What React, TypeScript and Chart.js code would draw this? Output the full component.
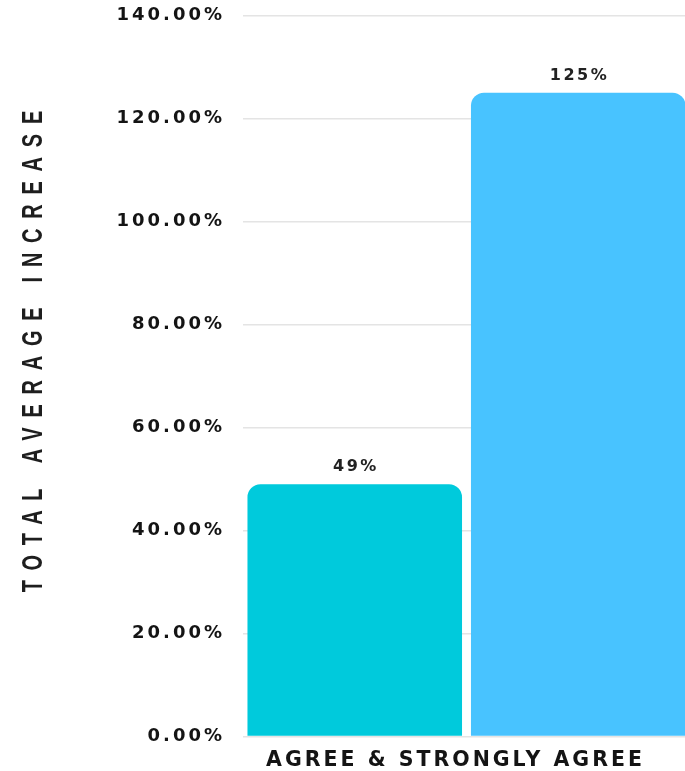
import React, { useEffect, useRef } from "react";
import { Chart, registerables } from "chart.js";

Chart.register(...registerables);

const categories: string[] = ["AGREE & STRONGLY AGREE"];
const seriesNames: string[] = ["Series 1", "Series 2"];
const seriesValues: number[][] = [[49], [125]];
const seriesColors: string[] = ["#00CADC", "#48C3FF"];
const yMin = 0;
const yMax = 140;
const yStep = 20;
const yTitle = "TOTAL AVERAGE INCREASE";

const TEXT_COLOR = "#141414";

const spacingPlugin = {
  id: "spacingPlugin",
  beforeDraw(chart: any) {
    chart.ctx.letterSpacing = "3px";
  },
  afterDraw(chart: any) {
    chart.ctx.letterSpacing = "0px";
  },
};

const dataLabelPlugin = {
  id: "dataLabelPlugin",
  afterDatasetsDraw(chart: any) {
    const ctx = chart.ctx;
    ctx.save();
    ctx.letterSpacing = "2.5px";
    ctx.font = 'bold 16px "DejaVu Sans"';
    ctx.fillStyle = "#222222";
    ctx.textAlign = "left";
    ctx.textBaseline = "middle";
    chart.data.datasets.forEach((ds: any, i: number) => {
      const meta = chart.getDatasetMeta(i);
      meta.data.forEach((el: any, j: number) => {
        const txt = `${ds.data[j]}%`;
        const w = ctx.measureText(txt).width - 2.5;
        ctx.fillText(txt, el.x - w / 2, el.y - 17);
      });
    });
    ctx.restore();
  },
};

const yTitlePlugin = {
  id: "yTitlePlugin",
  afterDraw(chart: any) {
    const ctx = chart.ctx;
    const sp = 9.75;
    ctx.save();
    ctx.letterSpacing = `${sp}px`;
    ctx.font = 'bold 20px "Liberation Sans"';
    ctx.fillStyle = "#1e1e1e";
    ctx.textAlign = "left";
    ctx.textBaseline = "middle";
    ctx.translate(34, 351.5);
    ctx.rotate(-Math.PI / 2);
    ctx.scale(1, 1.5);
    const w = ctx.measureText(yTitle).width - sp;
    ctx.fillText(yTitle, -w / 2, 0);
    ctx.restore();
  },
};

export default function App() {
  const canvasRef = useRef<HTMLCanvasElement | null>(null);

  useEffect(() => {
    document.body.style.margin = "0";
    document.documentElement.style.overflow = "hidden";
    document.body.style.overflow = "hidden";
    const canvas = canvasRef.current;
    if (!canvas) return;
    const chart = new Chart(canvas, {
      type: "bar",
      data: {
        labels: categories,
        datasets: seriesNames.map((name, i) => ({
          label: name,
          data: seriesValues[i],
          backgroundColor: seriesColors[i],
          borderRadius: 13,
          borderSkipped: "start",
          categoryPercentage: 1,
          barPercentage: 0.96,
        })),
      },
      options: {
        animation: false,
        responsive: true,
        maintainAspectRatio: false,
        layout: { padding: { top: 15.5, left: 0, right: 0, bottom: 0 } },
        plugins: {
          legend: { display: false },
          tooltip: { enabled: false },
          title: { display: false },
        },
        scales: {
          x: {
            grid: { display: false, drawTicks: false },
            border: { display: false },
            ticks: {
              color: TEXT_COLOR,
              font: { family: "DejaVu Sans", weight: "bold", size: 20.5 },
              padding: 12,
              labelOffset: -11,
              maxRotation: 0,
            },
            afterFit(scale: any) {
              scale.height = 34.5;
            },
          },
          y: {
            min: yMin,
            max: yMax,
            grid: { color: "#e4e4e4", lineWidth: 1.5, drawTicks: false },
            border: { display: false },
            ticks: {
              stepSize: yStep,
              color: TEXT_COLOR,
              font: { family: "DejaVu Sans", weight: "bold", size: 18 },
              padding: 18,
              callback: (v: any) => `${Number(v).toFixed(2)}%`,
            },
            afterFit(scale: any) {
              scale.width = 243;
              scale.paddingTop = 0;
              scale.paddingBottom = 0;
            },
          },
        },
      },
      plugins: [spacingPlugin, dataLabelPlugin, yTitlePlugin],
    });
    return () => chart.destroy();
  }, []);

  return (
    <div style={{ position: "relative", width: 690, height: 771 }}>
      <canvas ref={canvasRef} />
    </div>
  );
}
